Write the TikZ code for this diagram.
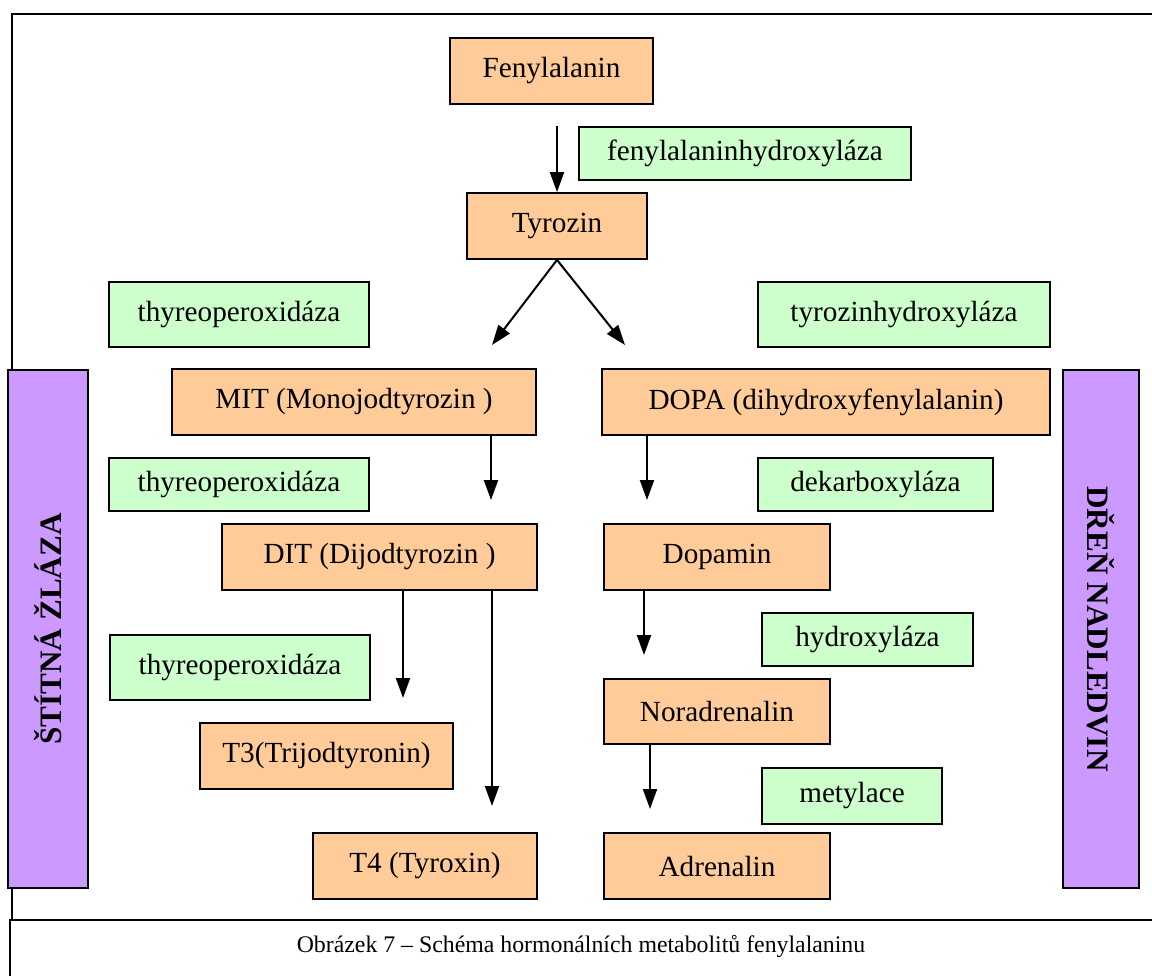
\documentclass[tikz,border=0pt]{standalone}
\usepackage{fontspec}
\setmainfont{Liberation Serif}
\usepackage{xcolor}
\usepackage{tikz}
\usetikzlibrary{arrows.meta}
\definecolor{subfill}{HTML}{FFCC99}
\definecolor{enzfill}{HTML}{CCFFCC}
\definecolor{orgfill}{HTML}{CC99FF}
\begin{document}
\begin{tikzpicture}[x=0.5pt, y=-0.5pt,
      sub/.style={draw, line width=0.9pt, fill=subfill, minimum height=33pt,
                  inner sep=0pt, font=\fontsize{14.6}{17}\selectfont},
      enz/.style={draw, line width=0.9pt, fill=enzfill,
                  inner sep=0pt, font=\fontsize{14.6}{17}\selectfont},
      org/.style={draw, line width=0.9pt, fill=orgfill, inner sep=0pt,
                  font=\fontsize{15.6}{18}\selectfont\bfseries},
      arr/.style={-{Triangle[length=10pt, width=7pt]}, line width=1pt}
  ]
    \useasboundingbox (0,0) rectangle (1152,976);
    % frame and caption box
    \draw[line width=1.1pt] (1152,14) -- (12,14) -- (12,920);
    \draw[line width=0.8pt] (1152,920) -- (10,920) -- (10,976);
    \node[font=\fontsize{11.9}{14}\selectfont] (cap) at (581,946)
      {Obrázek 7 – Schéma hormonálních metabolitů fenylalaninu};

    % organ bars
    \node[org, rotate=90, minimum width=259pt, minimum height=40pt] (thy) at (48,629) {ŠTÍTNÁ ŽLÁZA};
    \node[org, rotate=-90, minimum width=259pt, minimum height=38pt] (adm) at (1101,629) {DŘEŇ NADLEDVIN};

    % metabolites
    \node[sub, minimum width=101.5pt] (fen) at (551.5,71) {Fenylalanin};
    \node[sub, minimum width=90pt]    (tyr) at (557,226) {Tyrozin};
    \node[sub, minimum width=182pt]   (mit) at (354,402) {MIT (Monojodtyrozin )};
    \node[sub, minimum width=157.5pt] (dit) at (379.5,557) {DIT (Dijodtyrozin )};
    \node[sub, minimum width=126.5pt] (tri) at (326.5,756) {T3(Trijodtyronin)};
    \node[sub, minimum width=112pt]   (tyx) at (425,866) {T4 (Tyroxin)};
    \node[sub, minimum width=224pt]   (dopa) at (826,402) {DOPA (dihydroxyfenylalanin)};
    \node[sub, minimum width=113pt]   (dpm) at (717,557) {Dopamin};
    \node[sub, minimum width=113pt, minimum height=32.5pt] (nor) at (717,711.5) {Noradrenalin};
    \node[sub, minimum width=113pt]   (adr) at (717,866) {Adrenalin};

    % enzymes
    \node[enz, minimum width=166pt, minimum height=26.5pt] (fhx) at (745,153.5) {fenylalaninhydroxyláza};
    \node[enz, minimum width=130pt, minimum height=32.5pt] (tpa) at (239,314.5) {thyreoperoxidáza};
    \node[enz, minimum width=130pt, minimum height=26.5pt] (tpb) at (239,484.5) {thyreoperoxidáza};
    \node[enz, minimum width=130pt, minimum height=32.5pt] (tpc) at (240,667.5) {thyreoperoxidáza};
    \node[enz, minimum width=146pt, minimum height=32.5pt] (thx) at (904,314.5) {tyrozinhydroxyláza};
    \node[enz, minimum width=117.5pt, minimum height=26.5pt] (dek) at (875.5,484.5) {dekarboxyláza};
    \node[enz, minimum width=105.5pt, minimum height=26.5pt] (hyd) at (867.5,639.5) {hydroxyláza};
    \node[enz, minimum width=90pt, minimum height=28pt] (mty) at (852,796) {metylace};

    % arrow ends
    \coordinate (a0) at (557,126);
    \coordinate (a1) at (492,345);
    \coordinate (a2) at (625,345);
    \coordinate (a3) at (491,500);
    \coordinate (a4) at (647,500);
    \coordinate (a5) at (403,698);
    \coordinate (a6) at (492,806);
    \coordinate (a7) at (644,655);
    \coordinate (a8) at (650,809);

    \draw[arr] (a0) -- (tyr.north);
    \draw[arr] (tyr.south) -- (a1);
    \draw[arr] (tyr.south) -- (a2);
    \draw[arr] (mit.south -| a3) -- (a3);
    \draw[arr] (dopa.south -| a4) -- (a4);
    \draw[arr] (dit.south -| a5) -- (a5);
    \draw[arr] (dit.south -| a6) -- (a6);
    \draw[arr] (dpm.south -| a7) -- (a7);
    \draw[arr] (nor.south -| a8) -- (a8);
  \end{tikzpicture}
\end{document}
